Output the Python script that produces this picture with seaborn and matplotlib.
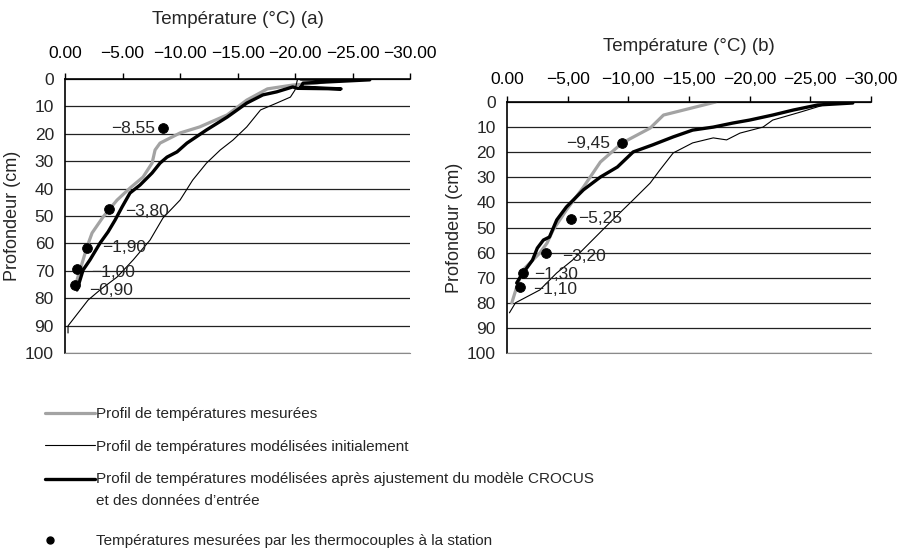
import matplotlib
matplotlib.use("Agg")
import matplotlib.pyplot as plt
from matplotlib.lines import Line2D
from matplotlib.legend_handler import HandlerBase
import seaborn as sns

# ---- panel (a) ----
mes_a_t = [-1.04, -1.91, -2.35, -3.30, -4.52, -5.65, -6.78, -7.57, -7.83, -8.26,
           -10.0, -11.7, -14.1, -15.8, -17.6, -19.8, -21.9, -23.3]
mes_a_d = [73.4, 61.3, 56.2, 50.4, 44.2, 39.8, 35.8, 30.7, 25.9, 23.4,
           19.7, 17.5, 13.1, 7.7, 3.6, 2.2, 1.5, 0.4]

ini_a_t = [-0.26, -0.26, -1.13, -2.0, -3.04, -4.52, -5.91, -7.39, -8.52, -10.0,
           -11.1, -12.3, -13.5, -14.6, -15.8, -17.0, -18.4, -19.6, -20.0, -20.2]
ini_a_d = [92.7, 90.1, 85.4, 80.7, 77.0, 72.3, 66.1, 58.8, 50.7, 44.2,
           36.9, 30.7, 25.9, 22.3, 17.5, 11.3, 8.8, 6.6, 4.0, 0.4]

adj_a_t = [-1.04, -1.57, -2.17, -3.04, -3.74, -4.35, -4.96, -5.65, -6.52, -7.57,
           -8.26, -8.87, -9.74, -10.6, -12.3, -14.1, -15.8, -17.2, -18.4, -19.8,
           -20.2, -24.0, -20.5, -20.7, -26.5, -20.5]
adj_a_d = [77.0, 69.7, 66.0, 59.9, 55.8, 51.5, 46.7, 41.6, 38.7, 34.3,
           30.7, 28.5, 26.6, 23.4, 18.6, 13.9, 8.8, 5.8, 4.7, 2.9,
           3.4, 3.6, 3.0, 1.5, 0.3, 0.0]

pts_a_t = [-8.55, -3.80, -1.90, -1.00, -0.90]
pts_a_d = [18.0, 47.5, 61.5, 69.5, 75.0]
pts_a_lab = ["\u22128,55", "\u22123,80", "\u22121,90", "\u22121,00", "\u22120,90"]
pts_a_off = [(-6, 0, "right"), (11.5, -2, "left"), (11, 0, "left"),
             (10.5, -2, "left"), (10, -4, "left")]

# ---- panel (b) ----
mes_b_t = [-17.2, -12.9, -11.8, -9.5, -7.7, -6.3, -4.9, -3.8, -3.3, -2.7,
           -1.3, -0.8, -0.4]
mes_b_d = [0.0, 5.2, 10.4, 16.3, 23.9, 33.9, 43.0, 51.0, 56.2, 60.2,
           67.0, 73.7, 80.0]

ini_b_t = [-0.2, -0.7, -2.7, -4.1, -5.4, -6.8, -8.7, -10.4, -11.8, -12.6,
           -13.7, -15.3, -17.0, -18.1, -19.2, -21.1, -21.9, -24.2, -26.1, -27.5]
ini_b_d = [84.0, 80.0, 74.9, 68.1, 63.0, 56.2, 47.0, 39.0, 32.3, 27.1,
           20.3, 16.3, 14.3, 15.1, 12.4, 10.0, 7.2, 4.0, 1.2, 0.4]

adj_b_t = [-28.5, -25.6, -23.6, -21.9, -20.0, -18.6, -17.0, -15.3, -13.7, -12.0,
           -10.4, -9.1, -7.7, -6.3, -4.9, -4.1, -3.5, -3.0, -2.5, -2.1,
           -1.1, -0.8]
adj_b_d = [0.4, 1.2, 3.2, 5.2, 7.2, 8.4, 10.0, 11.2, 13.9, 17.1,
           19.9, 25.9, 29.9, 35.0, 41.8, 47.0, 53.8, 55.0, 58.2, 63.0,
           69.7, 72.1]

pts_b_t = [-9.45, -5.25, -3.20, -1.30, -1.10]
pts_b_d = [16.5, 46.5, 60.0, 68.0, 73.7]
pts_b_lab = ["\u22129,45", "\u22125,25", "\u22123,20", "\u22121,30", "\u22121,10"]
pts_b_off = [(-8, 0, "right"), (5, 0, "left"), (12, -3, "left"),
             (8, -1.5, "left"), (9, -2, "left")]

# axes
x_ticks = [0, -5, -10, -15, -20, -25, -30]
x_labels_a = ["0.00", "\u22125.00", "\u221210.00", "\u221215.00", "\u221220.00", "\u221225.00", "\u221230.00"]
x_labels_b = ["0.00", "\u22125,00", "\u221210,00", "\u221215,00", "\u221220,00", "\u221225,00", "\u221230,00"]
y_ticks = [0, 10, 20, 30, 40, 50, 60, 70, 80, 90, 100]

legend_labels = [
    "Profil de temp\u00e9ratures mesur\u00e9es",
    "Profil de temp\u00e9ratures mod\u00e9lis\u00e9es initialement",
    "Profil de temp\u00e9ratures mod\u00e9lis\u00e9es apr\u00e8s ajustement du mod\u00e8le CROCUS\net des donn\u00e9es d\u2019entr\u00e9e",
]
dot_label = "Temp\u00e9ratures mesur\u00e9es par les thermocouples \u00e0 la station"

sns.set_style("white")
plt.rcParams['font.family'] = ['Liberation Sans', 'DejaVu Sans']
plt.rcParams['font.size'] = 12.5

GRAY = "#a3a3a3"


# legend handle: line drawn at the first text row, or a dot at the left end
class RowHandle(HandlerBase):
    def __init__(self, dy=0.0, dot=False):
        super().__init__()
        self.dy = dy
        self.dot = dot

    def create_artists(self, legend, orig_handle, xdescent, ydescent,
                       width, height, fontsize, trans):
        y = height / 2 - ydescent + self.dy
        if self.dot:
            art = Line2D([3.5 - xdescent], [y], ls="", marker="o", ms=5,
                         color="black")
        else:
            art = Line2D([-xdescent, width - xdescent], [y, y],
                         color=orig_handle.get_color(),
                         lw=orig_handle.get_linewidth())
        art.set_transform(trans)
        return [art]


fig = plt.figure(figsize=(8.97, 5.54), dpi=100)
ax_a = fig.add_axes([0.0725, 0.3628, 0.3846, 0.4946])
ax_b = fig.add_axes([0.5652, 0.3628, 0.4058, 0.4531])


def draw_panel(ax, mes, ini, adj, pts, labs, offs, xlabels, title, tpad, lpad):
    sns.lineplot(x=mes[0], y=mes[1], sort=False, estimator=None, color=GRAY, lw=2.3, ax=ax)
    sns.lineplot(x=ini[0], y=ini[1], sort=False, estimator=None, color="black", lw=0.8, ax=ax)
    sns.lineplot(x=adj[0], y=adj[1], sort=False, estimator=None, color="black", lw=2.4, ax=ax)
    sns.scatterplot(x=pts[0], y=pts[1], color="black", s=50, edgecolor="black", zorder=5, ax=ax)
    for t, d, lab, (dx, dy, ha) in zip(pts[0], pts[1], labs, offs):
        ax.annotate(lab, xy=(t, d), xytext=(dx, dy), textcoords="offset points",
                    ha=ha, va="center", fontsize=12.5)
    ax.set_xlim(0, -30)
    ax.set_ylim(100, 0)
    ax.set_xticks(x_ticks)
    ax.set_xticklabels(xlabels)
    ax.set_yticks(y_ticks)
    ax.xaxis.tick_top()
    ax.xaxis.set_label_position("top")
    ax.set_xlabel(title, labelpad=lpad, fontsize=13.5)
    ax.set_ylabel("Profondeur (cm)", labelpad=3, fontsize=13)
    ax.tick_params(axis="x", direction="out", length=4, width=1, pad=tpad, colors="black")
    ax.tick_params(axis="y", length=0, pad=8)
    ax.yaxis.grid(True, color="#222222", lw=0.9)
    ax.xaxis.grid(False)
    ax.set_axisbelow(True)
    ax.spines["right"].set_visible(False)
    ax.spines["bottom"].set_color("#8a8a8a")
    ax.spines["left"].set_color("black")
    ax.spines["left"].set_linewidth(1.2)
    ax.spines["top"].set_color("black")
    ax.spines["top"].set_linewidth(1.2)


draw_panel(ax_a, (mes_a_t, mes_a_d), (ini_a_t, ini_a_d), (adj_a_t, adj_a_d),
           (pts_a_t, pts_a_d), pts_a_lab, pts_a_off, x_labels_a,
           "Temp\u00e9rature (\u00b0C) (a)", 9, 16)
draw_panel(ax_b, (mes_b_t, mes_b_d), (ini_b_t, ini_b_d), (adj_b_t, adj_b_d),
           (pts_b_t, pts_b_d), pts_b_lab, pts_b_off, x_labels_b,
           "Temp\u00e9rature (\u00b0C) (b)", 7, 15)

handles = [
    Line2D([], [], color=GRAY, lw=2.3),
    Line2D([], [], color="black", lw=0.8),
    Line2D([], [], color="black", lw=2.4),
]
dot_handle = Line2D([], [], color="black", lw=0, marker="o", markersize=5)
hmap = {
    handles[0]: RowHandle(),
    handles[1]: RowHandle(),
    handles[2]: RowHandle(dy=8),
    dot_handle: RowHandle(dot=True),
}
leg_kw = dict(loc="upper left", frameon=False, handlelength=3.27, handletextpad=0.1,
              labelspacing=1.2, borderpad=0, borderaxespad=0, fontsize=11,
              handler_map=hmap)
leg = fig.legend(handles, legend_labels, bbox_to_anchor=(0.05, 0.265), **leg_kw)
for txt in leg.get_texts():
    txt.set_linespacing(1.7)
fig.legend([dot_handle], [dot_label], bbox_to_anchor=(0.05, 0.036), **leg_kw)

fig.savefig("out.png", dpi=100)
